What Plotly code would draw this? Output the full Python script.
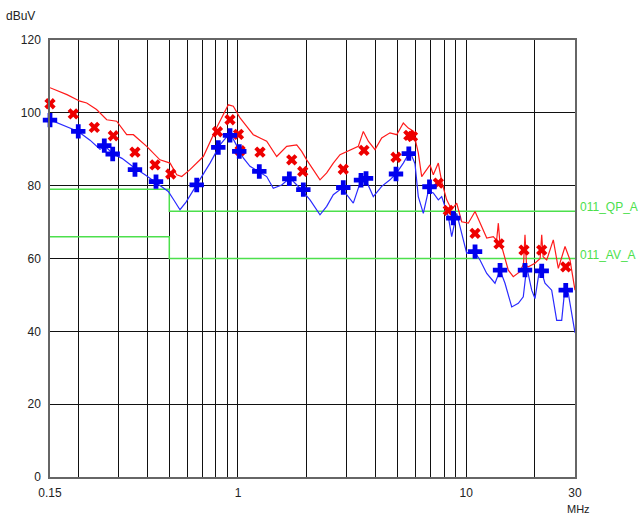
import math
import plotly.graph_objects as go

# ---- data -------------------------------------------------------------
qp_trace_f = [0.15, 0.178, 0.203, 0.2173, 0.240, 0.2659, 0.294, 0.3253, 0.348, 0.398,
              0.455, 0.504, 0.539,
              0.567, 0.616, 0.705, 0.807, 0.907, 0.954, 1.021, 1.092, 1.167, 1.249,
              1.336, 1.478, 1.635, 1.809, 1.902, 2.001, 2.138, 2.288, 2.448, 2.617,
              2.800, 2.996, 3.150, 3.368, 3.542, 3.726, 3.986, 4.265, 4.638, 4.963,
              5.304, 5.578, 5.866, 6.170, 6.386, 6.716, 6.944, 7.179, 7.551, 7.814,
              8.218, 8.643, 9.090, 9.561, 10.22, 10.94, 11.50, 12.31, 13.15, 13.60,
              13.84, 14.05, 14.32, 15.30, 16.09, 17.22, 17.85, 18.11, 18.40, 18.73,
              20.03, 21.10, 21.44, 21.75, 22.55, 24.10, 25.35, 27.13, 28.52, 30.0]
qp_trace_v = [106.9, 105.0, 103.2, 102.7, 100.9, 98.1, 97.7, 94.0, 94.0, 90.8,
              87.1, 86.2, 83.0,
              82.5, 84.4, 88.0, 96.0, 102.2, 101.8, 98.6, 96.3, 94.0, 93.1,
              92.2, 88.0, 90.8, 91.2, 89.4, 87.1, 84.4, 81.6, 83.5, 86.2,
              88.5, 89.4, 89.9, 90.8, 94.9, 92.2, 89.9, 93.1, 94.5, 94.0,
              97.2, 95.8, 95.0, 89.0, 82.5, 84.4, 85.7, 83.0, 86.2, 81.1,
              76.1, 73.4, 75.2, 70.1, 69.7, 72.9, 69.7, 65.6, 66.0, 65.0,
              69.7, 64.5, 63.3, 56.8, 55.0, 56.4, 58.5, 66.5, 58.0, 57.7,
              58.7, 60.0, 66.5, 60.5, 59.6, 65.1, 57.3, 63.3, 59.6, 51.3]

av_trace_f = [0.15, 0.1995, 0.2246, 0.2484, 0.2614, 0.2841, 0.3102, 0.3536, 0.3914,
              0.4403, 0.4950, 0.5243, 0.5569, 0.5919, 0.6594, 0.7541, 0.8341, 0.9226,
              0.9872, 1.055, 1.129, 1.228, 1.336, 1.428, 1.554, 1.690, 1.870, 2.069,
              2.288, 2.448, 2.617, 2.849, 3.045, 3.202, 3.426, 3.604, 3.918, 4.265,
              4.638, 4.963, 5.304, 5.674, 5.969, 6.170, 6.491, 6.827, 7.179, 7.551,
              7.814, 8.352, 8.643, 9.090, 9.561, 10.06, 10.75, 11.50, 12.31, 13.38,
              14.08, 14.80, 15.84, 16.93, 17.80, 18.43, 19.38, 20.03, 21.07, 22.16,
              23.71, 24.94, 26.23, 27.13, 28.04, 29.01, 30.0]
av_trace_v = [98.1, 94.9, 92.5, 90.0, 90.8, 88.7, 87.5, 84.8, 83.0,
              80.7, 78.4, 76.0, 73.4, 75.5, 80.2, 86.2, 91.2, 94.5,
              91.0, 87.6, 85.3, 83.9, 82.5, 79.3, 80.2, 82.1, 79.3, 76.1,
              72.0, 74.3, 77.5, 79.3, 77.0, 75.2, 80.7, 82.1, 77.0, 79.8,
              81.6, 83.5, 86.2, 89.4, 86.0, 77.0, 72.4, 78.5, 78.0, 76.1,
              77.0, 71.5, 66.0, 72.4, 66.9, 61.4, 62.3, 59.6, 55.9, 53.2,
              56.8, 53.2, 46.7, 47.7, 49.5, 57.7, 51.3, 49.0, 57.7, 53.2,
              51.3, 43.0, 43.0, 52.2, 50.4, 44.9, 39.6]

qp_mark_f = [0.15, 0.1897, 0.2346, 0.2841, 0.3536, 0.4329, 0.5073, 0.8131, 0.9226,
             1.005, 1.021, 1.249, 1.720, 1.922, 2.894, 3.566, 4.927, 5.607, 5.819,
             7.551, 8.352, 10.94, 13.93, 17.93, 21.44, 27.32]
qp_mark_v = [102.5, 99.7, 96.0, 93.7, 89.2, 85.7, 83.2, 94.8, 98.1,
             94.1, 89.6, 89.2, 87.1, 83.9, 84.5, 89.7, 87.8, 93.8, 93.5,
             80.7, 73.2, 66.9, 64.0, 62.3, 62.3, 57.7]

av_mark_f = [0.15, 0.1995, 0.2595, 0.2824, 0.3536, 0.4372, 0.6594, 0.8197, 0.9226,
             1.013, 1.240, 1.679, 1.934, 2.894, 3.461, 3.641, 4.927, 5.607, 6.909,
             8.783, 10.94, 14.08, 18.11, 21.44, 27.32]
av_mark_v = [98.0, 94.9, 91.0, 88.7, 84.4, 81.1, 80.2, 90.5, 93.8,
             89.4, 83.9, 81.9, 78.9, 79.5, 81.5, 82.0, 83.2, 88.8, 79.7,
             71.1, 61.9, 56.8, 56.8, 56.6, 51.3]

limit_f = [0.15, 0.5, 30.0]
qp_limit = [79, 73, 73]
av_limit = [66, 60, 60]
qp_label = "011_QP_A"
av_label = "011_AV_A"

x_grid = [0.15, 0.2, 0.3, 0.4, 0.5, 0.6, 0.7, 0.8, 0.9, 1, 2, 3, 4, 5, 6, 7, 8, 9, 10, 20, 30]
x_labels = {0.15: "0.15", 1: "1", 10: "10", 30: "30"}
y_ticks = [0, 20, 40, 60, 80, 100, 120]

# ---- figure -----------------------------------------------------------
GREEN = "#4ce04c"
FONT = "Liberation Sans, Arial, sans-serif"

fig = go.Figure()
fig.add_trace(go.Scatter(x=limit_f, y=qp_limit, mode="lines", line=dict(color=GREEN, width=1.5, shape="hv")))
fig.add_trace(go.Scatter(x=limit_f, y=av_limit, mode="lines", line=dict(color=GREEN, width=1.5, shape="hv")))
fig.add_trace(go.Scatter(x=qp_trace_f, y=qp_trace_v, mode="lines", line=dict(color="#ff1a1a", width=1.2)))
fig.add_trace(go.Scatter(x=av_trace_f, y=av_trace_v, mode="lines", line=dict(color="#2a2aff", width=1.2)))
fig.add_trace(go.Scatter(x=qp_mark_f, y=qp_mark_v, mode="markers", cliponaxis=False,
                         marker=dict(symbol="x", size=10, color="#ee0000", line=dict(width=0))))
fig.add_trace(go.Scatter(x=av_mark_f, y=av_mark_v, mode="markers", cliponaxis=False,
                         marker=dict(symbol="cross", size=12, color="#0000ee", line=dict(width=0))))

eps = 1e-7
fig.update_xaxes(type="log", range=[math.log10(0.15) - eps, math.log10(30) + eps],
                 tickvals=x_grid, ticktext=[x_labels.get(v, "") for v in x_grid],
                 showgrid=True, gridcolor="#111111", gridwidth=1,
                 showline=True, linecolor="#666666", linewidth=1.5, mirror=True,
                 ticks="outside", ticklen=4, tickcolor="rgba(0,0,0,0)",
                 tickfont=dict(family=FONT, size=12, color="#222222"), zeroline=False)
fig.update_yaxes(range=[0, 120], tickvals=y_ticks,
                 showgrid=True, gridcolor="#111111", gridwidth=1,
                 showline=True, linecolor="#666666", linewidth=1.5, mirror=True,
                 ticks="outside", ticklen=5, tickcolor="rgba(0,0,0,0)",
                 tickfont=dict(family=FONT, size=12, color="#222222"), zeroline=False)

fig.add_annotation(xref="paper", yref="paper", x=-0.087, y=1.054, text="dBuV", showarrow=False,
                   xanchor="left", yanchor="middle", font=dict(family=FONT, size=12, color="#222222"))
fig.add_annotation(xref="paper", yref="paper", x=0.981, y=-0.074, text="MHz", showarrow=False,
                   xanchor="left", yanchor="middle", font=dict(family=FONT, size=11, color="#222222"))
fig.add_annotation(xref="paper", yref="y", x=1.005, y=qp_limit[-1], yshift=4, text=qp_label, showarrow=False,
                   xanchor="left", yanchor="middle", font=dict(family=FONT, size=12, color=GREEN))
fig.add_annotation(xref="paper", yref="y", x=1.005, y=av_limit[-1], yshift=4, text=av_label, showarrow=False,
                   xanchor="left", yanchor="middle", font=dict(family=FONT, size=12, color=GREEN))

fig.update_layout(width=641, height=516, margin=dict(l=50, r=66, t=40, b=39),
                  paper_bgcolor="white", plot_bgcolor="white", showlegend=False)

fig.write_html("out.html", config={"displayModeBar": False},
               post_script="document.body.style.margin='0px';document.body.style.overflow='hidden';")
